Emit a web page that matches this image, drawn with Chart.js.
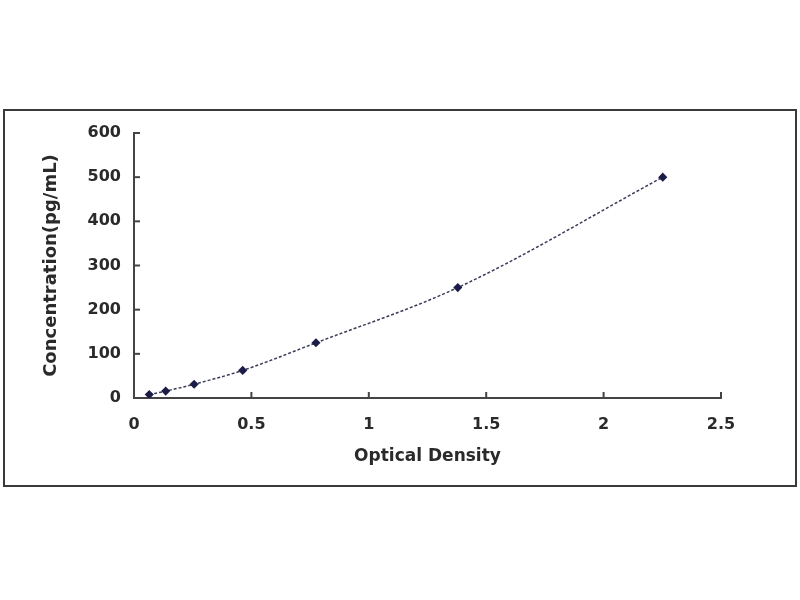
<!DOCTYPE html>
<html>
<head>
<meta charset="utf-8">
<script src="https://cdn.jsdelivr.net/npm/chart.js@4.4.0/dist/chart.umd.min.js"></script>
<style>
  html, body { margin: 0; padding: 0; background: #fff; }
  #wrap { position: relative; width: 800px; height: 600px; }
  #frame {
    position: absolute; left: 3px; top: 109px; width: 790px; height: 374px;
    border: 2px solid #3a3a3a; pointer-events: none;
  }
</style>
</head>
<body>
<div id="wrap">
  <canvas id="curve" width="800" height="600"></canvas>
  <div id="frame"></div>
</div>
<script>
// --- Datos de la curva estándar ---
const opticalDensity = [0.065, 0.135, 0.256, 0.463, 0.775, 1.379, 2.252];
const concentration = [7.81, 15.63, 31.25, 62.5, 125, 250, 500];

const xTitle = 'Optical Density';
const yTitle = 'Concentration(pg/mL)';

// Marcas de escala hacia dentro, como en el original
const innerTicks = {
  id: 'innerTicks',
  afterDraw(chart) {
    const ctx = chart.ctx;
    const len = 6;
    ctx.save();
    ctx.strokeStyle = '#444';
    ctx.lineWidth = 2;
    const xs = chart.scales.x;
    const ys = chart.scales.y;
    xs.ticks.forEach(t => {
      const px = xs.getPixelForValue(t.value);
      ctx.beginPath();
      ctx.moveTo(px, xs.top);
      ctx.lineTo(px, xs.top - len);
      ctx.stroke();
    });
    ys.ticks.forEach(t => {
      const py = ys.getPixelForValue(t.value);
      ctx.beginPath();
      ctx.moveTo(ys.right, py);
      ctx.lineTo(ys.right + len, py);
      ctx.stroke();
    });
    ctx.restore();
  }
};

const tickFont = { family: 'DejaVu Sans', size: 16, weight: 'bold' };

new Chart(document.getElementById('curve'), {
  type: 'scatter',
  data: {
    datasets: [{
      data: opticalDensity.map((x, i) => ({ x, y: concentration[i] })),
      showLine: true,
      borderColor: '#3c3c5a',
      borderWidth: 1.5,
      borderDash: [3, 2],
      tension: 0.4,
      cubicInterpolationMode: 'monotone',
      pointStyle: 'rectRot',
      pointRadius: 3.5,
      pointBackgroundColor: '#1c1c48',
      pointBorderColor: '#1c1c48'
    }]
  },
  options: {
    responsive: false,
    animation: false,
    layout: { padding: { left: 41, top: 133, right: 79, bottom: 133 } },
    plugins: {
      legend: { display: false },
      tooltip: { enabled: false }
    },
    scales: {
      x: {
        type: 'linear',
        min: 0,
        max: 2.5,
        afterFit: (scale) => { scale.height = 69; },
        ticks: {
          stepSize: 0.5,
          padding: 17,
          color: '#2a2a2a',
          font: tickFont,
          maxRotation: 0,
          callback: (val) => String(val)
        },
        grid: { drawOnChartArea: false, drawTicks: false },
        border: { display: true, color: '#444', width: 2 },
        title: {
          display: true, text: xTitle, color: '#2a2a2a', padding: 0,
          font: { family: 'DejaVu Sans', size: 17, weight: 'bold' }
        }
      },
      y: {
        type: 'linear',
        min: 0,
        max: 600,
        afterFit: (scale) => { scale.width = 93; },
        ticks: {
          stepSize: 100,
          padding: 13,
          color: '#2a2a2a',
          font: tickFont
        },
        grid: { drawOnChartArea: false, drawTicks: false },
        border: { display: true, color: '#444', width: 2 },
        title: {
          display: true, text: yTitle, color: '#2a2a2a', padding: 0,
          font: { family: 'DejaVu Sans', size: 18, weight: 'bold' }
        }
      }
    }
  },
  plugins: [innerTicks]
});
</script>
</body>
</html>
